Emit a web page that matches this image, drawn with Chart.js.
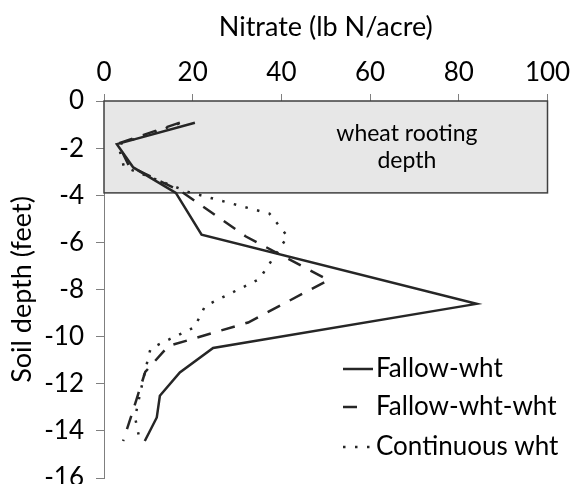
<!DOCTYPE html>
<html>
<head>
<meta charset="utf-8">
<script src="https://cdn.jsdelivr.net/npm/chart.js@4/dist/chart.umd.min.js"></script>
<style>
  html, body { margin:0; padding:0; background:#fff; }
  #wrap { width:572px; height:484px; }
</style>
</head>
<body>
<div id="wrap"><canvas id="chart" width="572" height="484"></canvas></div>
<script>
// nitrate (lb N/acre) vs soil depth (feet)
const fallowWhtX = [20.5, 2.9, 6.6, 16.2, 22.0, 84.0, 24.6, 17.1, 12.6, 11.9, 9.2];
const fallowWhtY = [-0.92, -1.83, -2.82, -3.9, -5.67, -8.61, -10.48, -11.52, -12.51, -13.43, -14.43];

const fallowWhtWhtX = [17.1, 3.2, 5.6, 17.5, 32.0, 50.6, 32.5, 14.5, 9.3, 7.6, 6.1, 4.3];
const fallowWhtWhtY = [-0.92, -1.8, -2.75, -3.85, -5.75, -7.6, -9.4, -10.4, -11.5, -12.5, -13.4, -14.43];

const contWhtX = [17.0, 3.2, 4.5, 19.0, 37.3, 41.4, 35.0, 22.8, 20.4, 10.5, 9.2, 8.1, 7.0, 8.1];
const contWhtY = [-0.95, -1.85, -2.8, -3.86, -4.78, -5.75, -7.56, -8.7, -9.6, -10.5, -11.5, -12.45, -13.43, -14.43];

const seriesNames = ['Fallow-wht', 'Fallow-wht-wht', 'Continuous wht'];
const xTicks = [0, 20, 40, 60, 80, 100];
const yTicks = [0, -2, -4, -6, -8, -10, -12, -14, -16];

const ROOT_DEPTH = -3.9;
const rootLabel = ['wheat rooting', 'depth'];

const FONT = "Lato, 'Open Sans', sans-serif";
const INK = '#262626';

function pts(xs, ys){ return xs.map((x, i) => ({ x: x, y: ys[i] })); }

function noPad(s){ s.paddingTop = 0; s.paddingBottom = 0; s.paddingLeft = 0; s.paddingRight = 0; }

const rootBox = {
  id: 'rootBox',
  beforeDatasetsDraw(chart){
    const {ctx, scales:{x, y}} = chart;
    const l = x.getPixelForValue(0), r = x.getPixelForValue(100);
    const t = y.getPixelForValue(0), b = y.getPixelForValue(ROOT_DEPTH);
    ctx.save();
    ctx.fillStyle = '#e7e7e7';
    ctx.fillRect(l, t, r - l, b - t);
    ctx.strokeStyle = '#404040';
    ctx.lineWidth = 1.5;
    ctx.strokeRect(l, t, r - l, b - t);
    ctx.fillStyle = '#000';
    ctx.font = '23px ' + FONT;
    ctx.textAlign = 'center';
    ctx.textBaseline = 'alphabetic';
    const cx = x.getPixelForValue(68.3);
    ctx.fillText(rootLabel[0], cx, t + 40);
    ctx.fillText(rootLabel[1], cx, t + 67);
    ctx.restore();
  }
};

const sideLegend = {
  id: 'sideLegend',
  afterDraw(chart){
    const {ctx, chartArea} = chart;
    const x0 = chartArea.left + 239;
    const rows = [268, 306, 346];
    ctx.save();
    ctx.font = '26px ' + FONT;
    ctx.textBaseline = 'middle';
    ctx.fillStyle = '#000';
    chart.data.datasets.forEach((ds, i) => {
      const yy = chartArea.top + rows[i];
      ctx.strokeStyle = ds.borderColor;
      ctx.lineWidth = ds.borderWidth;
      ctx.setLineDash(ds.borderDash || []);
      ctx.beginPath();
      ctx.moveTo(x0, yy);
      ctx.lineTo(i === 1 ? x0 + 14 : x0 + 30, yy);
      ctx.stroke();
      ctx.setLineDash([]);
      ctx.fillText(ds.label, x0 + 33, yy);
    });
    ctx.restore();
  }
};

const axisFont = { family: FONT, size: 26 };

new Chart(document.getElementById('chart'), {
  type: 'scatter',
  data: {
    datasets: [
      { label: seriesNames[0], data: pts(fallowWhtX, fallowWhtY), showLine: true,
        borderColor: INK, borderWidth: 2.5, pointRadius: 0, borderDash: [] },
      { label: seriesNames[1], data: pts(fallowWhtWhtX, fallowWhtWhtY), showLine: true,
        borderColor: INK, borderWidth: 2.5, pointRadius: 0, borderDash: [14, 11] },
      { label: seriesNames[2], data: pts(contWhtX, contWhtY), showLine: true,
        borderColor: INK, borderWidth: 2.5, pointRadius: 0, borderDash: [2.5, 9.5] }
    ]
  },
  options: {
    animation: false,
    responsive: false,
    layout: { autoPadding: false, padding: { left: 0, top: 0, right: 24.5, bottom: 6 } },
    plugins: { legend: { display: false }, tooltip: { enabled: false } },
    scales: {
      x: {
        type: 'linear', position: 'top', min: 0, max: 100,
        afterBuildTicks(s){ s.ticks = xTicks.map(v => ({ value: v })); },
        afterFit(s){ s.height = 101; noPad(s); },
        ticks: { color: '#000', font: axisFont, padding: 6 },
        grid: { drawOnChartArea: false, tickLength: 7, color: '#7f7f7f', lineWidth: 1 },
        border: { color: '#7f7f7f' },
        title: { display: true, text: 'Nitrate (lb N/acre)', color: '#000', font: { family: FONT, size: 27 }, padding: { top: 11, bottom: 4 } }
      },
      y: {
        type: 'linear', min: -16, max: 0,
        afterBuildTicks(s){ s.ticks = yTicks.map(v => ({ value: v })); },
        afterFit(s){ s.width = 104; noPad(s); },
        ticks: { color: '#000', font: axisFont, padding: 12 },
        grid: { drawOnChartArea: false, tickLength: 8, color: '#7f7f7f', lineWidth: 1 },
        border: { color: '#7f7f7f' },
        title: { display: true, text: 'Soil depth (feet)', color: '#000', font: { family: FONT, size: 27 }, padding: { top: 6, bottom: 4 } }
      }
    }
  },
  plugins: [rootBox, sideLegend]
});
</script>
</body>
</html>
